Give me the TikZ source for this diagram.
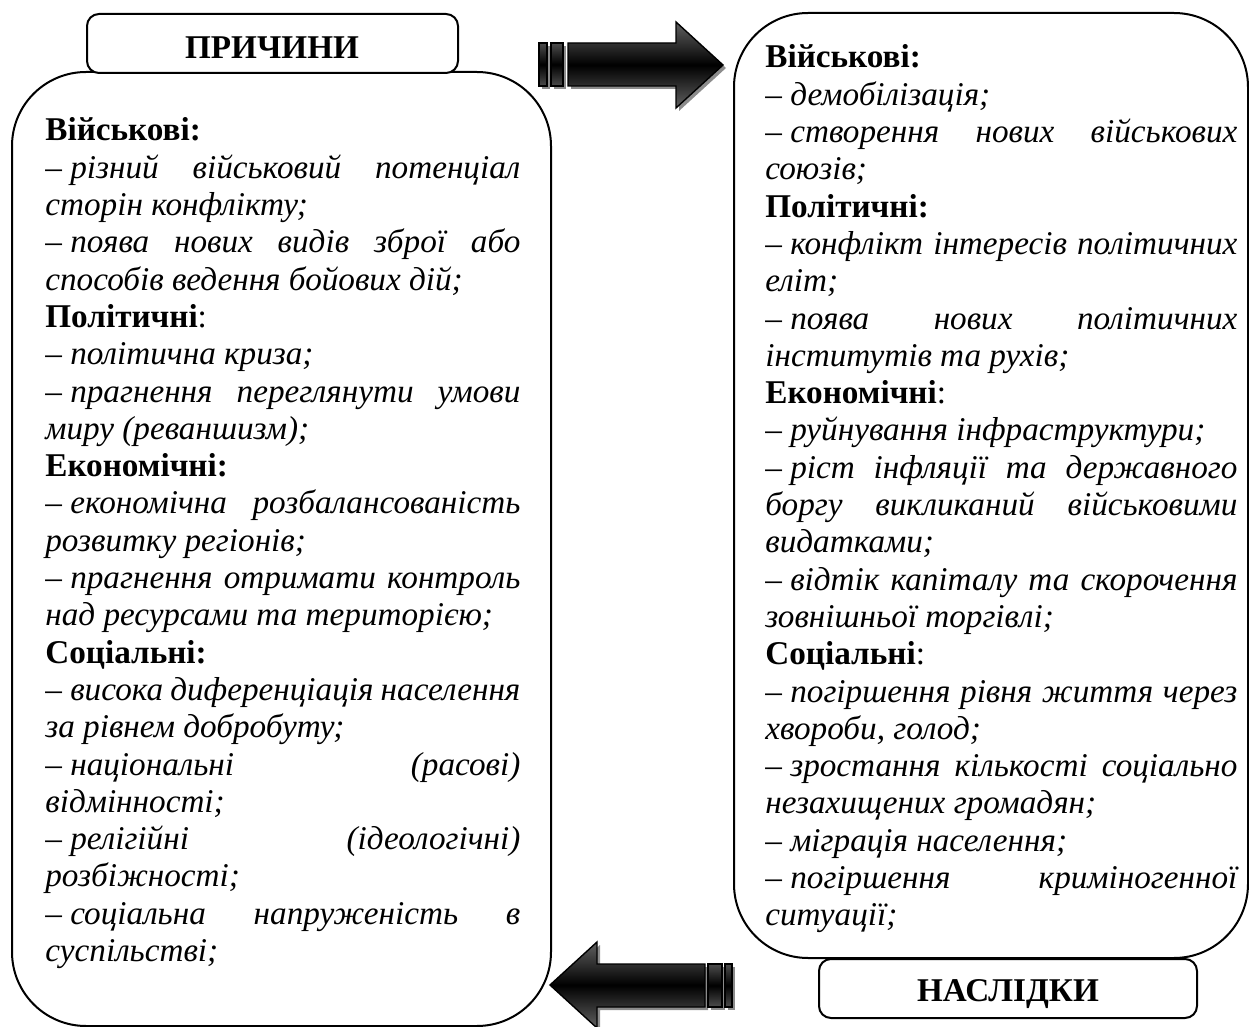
\documentclass[tikz,border=0pt]{standalone}
\usepackage{fontspec}
\setmainfont{Liberation Serif}
\tikzset{
  bigbox/.style={draw, line width=1pt, rounded corners=37pt, fill=white, inner sep=0pt},
  headbox/.style={draw, line width=1pt, rounded corners=6pt, fill=white, inner sep=0pt},
  headtext/.style={font=\fontsize{16.6pt}{20pt}\selectfont\bfseries, inner sep=0pt, anchor=base},
  bodytext/.style={inner sep=0pt, anchor=base west},
  blockarrow/.style={draw=black, line width=0.7pt, top color=black!62, bottom color=black!62, middle color=black},
  arrowbar/.style={draw=black, line width=0.7pt, top color=black!70, bottom color=black!70, middle color=black},
  arrowshadow/.style={fill=black!45, draw=none}
}
\newcommand{\bodyfont}{\fontsize{16.6pt}{18.65pt}\selectfont\hyphenpenalty=10000\tolerance=10000\emergencystretch=20pt}
\newcommand{\dsh}{–\kern0.25em}
\begin{document}
\begin{tikzpicture}[x=0.5pt,y=0.5pt]
\useasboundingbox (0,0) rectangle (1249,-1027);

% big boxes
\node[bigbox, anchor=north west, minimum width=269.5pt, minimum height=477pt] (causesbox) at (11,-71) {};
\node[bigbox, anchor=north west, minimum width=257pt, minimum height=472.5pt] (effectsbox) at (733,-12) {};

% header boxes
\node[headbox, anchor=north west, minimum width=185.5pt, minimum height=29.5pt] (causeshead) at (86,-13) {};
\node[headbox, anchor=north west, minimum width=189pt, minimum height=29.5pt] (effectshead) at (818,-958) {};
\node[headtext] (causeslabel) at (272,-59) {ПРИЧИНИ};
\node[headtext] (effectslabel) at (1008,-1001) {НАСЛІДКИ};

% top arrow (right)
\begin{scope}[shift={(3,-3)}]
  \fill[arrowshadow] (568,-43) -- (676,-43) -- (676,-22) -- (723,-65) -- (676,-108) -- (676,-86) -- (568,-86) -- cycle;
  \fill[arrowshadow] (551,-43) rectangle (563,-86);
  \fill[arrowshadow] (539,-43) rectangle (547,-86);
\end{scope}
\shade[blockarrow] (568,-43) -- (676,-43) -- (676,-22) -- (723,-65) -- (676,-108) -- (676,-86) -- (568,-86) -- cycle;
\shade[arrowbar] (551,-43) rectangle (563,-86);
\shade[arrowbar] (539,-43) rectangle (547,-86);

% bottom arrow (left)
\begin{scope}[shift={(3,-3)}]
  \fill[arrowshadow] (705,-964) -- (597,-964) -- (597,-942) -- (550,-985) -- (597,-1028) -- (597,-1007) -- (705,-1007) -- cycle;
  \fill[arrowshadow] (708,-964) rectangle (722,-1007);
  \fill[arrowshadow] (725,-964) rectangle (732,-1007);
\end{scope}
\shade[blockarrow] (705,-964) -- (597,-964) -- (597,-942) -- (550,-985) -- (597,-1028) -- (597,-1007) -- (705,-1007) -- cycle;
\shade[arrowbar] (708,-964) rectangle (722,-1007);
\shade[arrowbar] (725,-964) rectangle (732,-1007);

% left text
\node[bodytext] (causestext) at (45,-141) {\parbox[t]{237.5pt}{\bodyfont
\textbf{Військові:}\par
\textit{\dsh різний~військовий~потенціал\linebreak сторін~конфлікту;}\par
\textit{\dsh поява~нових~видів~зброї~або\linebreak способів~ведення~бойових~дій;}\par
\textbf{Політичні}:\par
\textit{\dsh політична~криза;}\par
\textit{\dsh прагнення~переглянути~умови\linebreak миру~(реваншизм);}\par
\textbf{Економічні:}\par
\textit{\dsh економічна~розбалансованість\linebreak розвитку~регіонів;}\par
\textit{\dsh прагнення~отримати~контроль\linebreak над~ресурсами~та~територією;}\par
\textbf{Соціальні:}\par
\textit{\dsh висока~диференціація~населення\linebreak за~рівнем~добробуту;}\par
\textit{\dsh національні~(расові)\linebreak відмінності;}\par
\textit{\dsh релігійні~(ідеологічні)\linebreak розбіжності;}\par
\textit{\dsh соціальна~напруженість~в\linebreak суспільстві;}}};

% right text
\node[bodytext] (effectstext) at (765,-68) {\parbox[t]{236pt}{\bodyfont
\textbf{Військові:}\par
\textit{\dsh демобілізація;}\par
\textit{\dsh створення~нових~військових\linebreak союзів;}\par
\textbf{Політичні:}\par
\textit{\dsh конфлікт~інтересів~політичних\linebreak еліт;}\par
\textit{\dsh поява~нових~політичних\linebreak інститутів~та~рухів;}\par
\textbf{Економічні}:\par
\textit{\dsh руйнування~інфраструктури;}\par
\textit{\dsh ріст~інфляції~та~державного\linebreak боргу~викликаний~військовими\linebreak видатками;}\par
\textit{\dsh відтік~капіталу~та~скорочення\linebreak зовнішньої~торгівлі;}\par
\textbf{Соціальні}:\par
\textit{\dsh погіршення~рівня~життя~через\linebreak хвороби,~голод;}\par
\textit{\dsh зростання~кількості~соціально\linebreak незахищених~громадян;}\par
\textit{\dsh міграція~населення;}\par
\textit{\dsh погіршення~криміногенної\linebreak ситуації;}}};
\end{tikzpicture}
\end{document}
